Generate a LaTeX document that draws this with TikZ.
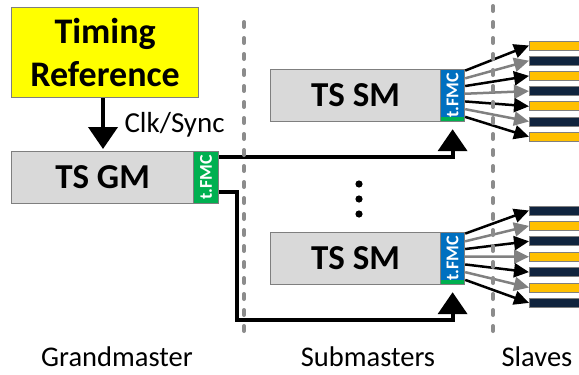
\documentclass[tikz,border=0pt]{standalone}
\usepackage{fontspec}
\setmainfont{Carlito}
\usetikzlibrary{arrows.meta,calc,positioning}

\definecolor{refyellow}{HTML}{FFFF00}
\definecolor{boxgray}{HTML}{7F7F7F}
\definecolor{gmgray}{HTML}{D9D9D9}
\definecolor{fmcgreen}{HTML}{00B050}
\definecolor{fmcblue}{HTML}{0070C0}
\definecolor{slyellow}{HTML}{FFC000}
\definecolor{slnavy}{HTML}{10243E}
\definecolor{fangray}{HTML}{808080}
\definecolor{sepgray}{HTML}{8C8C8C}

\begin{document}
\begin{tikzpicture}[x=1pt,y=-1pt,
  box/.style={draw=boxgray,line width=1.2pt,fill=gmgray,inner sep=0pt,anchor=north west,
    minimum height=52pt,font=\bfseries\fontsize{35}{35}\selectfont},
  fmcbox/.style={draw=boxgray,line width=1.2pt,fill=#1,inner sep=0pt,anchor=north west,
    minimum width=23pt,minimum height=52pt,text=white,font=\bfseries\fontsize{18}{18}\selectfont,
    path picture={\fill[fmcgreen] (path picture bounding box.south west) rectangle
      ([yshift=5pt]path picture bounding box.south east);}},
  slbar/.style={draw=boxgray,line width=0.8pt,fill=#1,inner sep=0pt,anchor=west,
    minimum width=60pt,minimum height=9pt},
  link/.style={line width=4pt,-{Triangle[width=29pt,length=22pt]}},
  fan/.style={line width=2.5pt,#1,-{Triangle[width=14pt,length=15pt]}},
  sep/.style={sepgray,line width=4pt,line cap=round,dash pattern=on 5pt off 11pt},
  caption/.style={font=\fontsize{28.5}{28.5}\selectfont}]

\clip (0,0) rectangle (579,375);

% timing reference and grandmaster
\node[box,fill=refyellow,minimum width=187pt,minimum height=90pt,align=center,
  font=\bfseries\fontsize{36}{43}\selectfont] (tref) at (11,7) {Timing\\Reference};
\node[box,minimum width=182pt] (gm) at (11,151) {TS GM};
\node[fmcbox=fmcgreen,minimum width=25pt] (gmfmc) at (193,151) {\rotatebox{90}{t.FMC}};

\draw[link,shorten >=2pt] (tref.south -| 103,0) -- (gm.north -| 103,0);
\node[anchor=west,font=\fontsize{29}{29}\selectfont] (clk) at (121,125) {Clk/Sync};

% submasters
\node[box,minimum width=170pt] (smA) at (270,69) {TS SM};
\node[fmcbox=fmcblue,minimum width=24pt] (fmcA) at (440,69) {\rotatebox{90}{t.FMC}};
\node[box,minimum width=170pt] (smB) at (270,232) {TS SM};
\node[fmcbox=fmcblue,minimum width=24pt] (fmcB) at (440,232) {\rotatebox{90}{t.FMC}};

\fill (359,184) circle (3.6pt);
\fill (359,199) circle (3.6pt);
\fill (359,214) circle (3.6pt);

\draw[link,shorten >=7pt] ([yshift=-6pt]gmfmc.north east) -| (fmcA.south);
\coordinate (bend) at (237,192);
\draw[link,shorten >=7pt] (gmfmc.east |- bend) -- (bend) -- (bend |- 0,320) -| (fmcB.south);

% slaves
\foreach \i in {1,...,7}{
  \pgfmathsetmacro{\ya}{45.5+15.2*(\i-1)}
  \pgfmathsetmacro{\yb}{210.5+15.4*(\i-1)}
  \pgfmathsetmacro{\fr}{0.03+0.145*(\i-1)}
  \ifodd\i
    \node[slbar=slyellow] (slA\i) at (529,\ya) {};
    \node[slbar=slnavy] (slB\i) at (529,\yb) {};
    \def\fancol{black}
  \else
    \node[slbar=slnavy] (slA\i) at (529,\ya) {};
    \node[slbar=slyellow] (slB\i) at (529,\yb) {};
    \def\fancol{fangray}
  \fi
  \draw[fan=\fancol] ($(fmcA.north east)!\fr!(fmcA.south east)$) -- (slA\i.west);
  \draw[fan=\fancol] ($(fmcB.north east)!\fr!(fmcB.south east)$) -- (slB\i.west);
}

% separators
\draw[sep] (244,22) -- (244,340);
\draw[sep] (493,6) -- (493,340);

\node[caption] (capgm) at (117,357) {Grandmaster};
\node[caption] (capsm) at (368,357) {Submasters};
\node[caption] (capsl) at (537,357) {Slaves};

\end{tikzpicture}
\end{document}
